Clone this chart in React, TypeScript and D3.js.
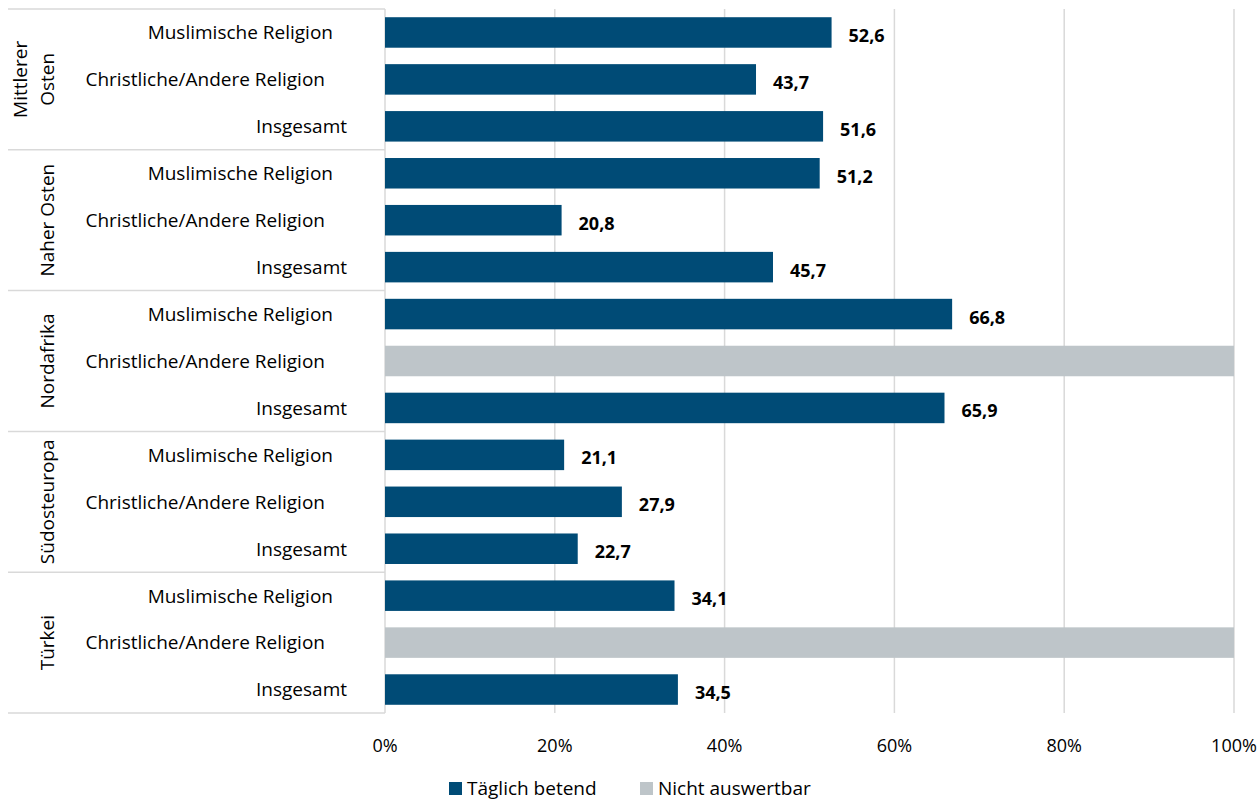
import React from "react";
import * as d3 from "d3";

const groups = ["Mittlerer Osten", "Naher Osten", "Nordafrika", "Südosteuropa", "Türkei"];
const groupLines = [["Mittlerer", "Osten"], ["Naher Osten"], ["Nordafrika"], ["Südosteuropa"], ["Türkei"]];
const categories = ["Muslimische Religion", "Christliche/Andere Religion", "Insgesamt"];
// null = Nicht auswertbar
const dailyPraying: (number | null)[] = [
  52.6, 43.7, 51.6,
  51.2, 20.8, 45.7,
  66.8, null, 65.9,
  21.1, 27.9, 22.7,
  34.1, null, 34.5,
];
const xTicks = [0, 20, 40, 60, 80, 100];
const legendItems = ["Täglich betend", "Nicht auswertbar"];

const W = 1259, H = 801;
const plotLeft = 385, plotRight = 1234, plotTop = 9, plotBottom = 713;
const BLUE = "#004B76";
const GREY = "#BEC5C9";
const FONT = "'Open Sans', 'Noto Sans', sans-serif";
const catLabelEnd: Record<string, number> = {
  "Muslimische Religion": 333,
  "Christliche/Andere Religion": 325,
  "Insgesamt": 347,
};

export default function App() {
  const x = d3.scaleLinear().domain([0, 100]).range([plotLeft, plotRight]);
  const rows = dailyPraying.map((v, i) => ({ v, i, g: Math.floor(i / 3), c: categories[i % 3] }));
  const y = d3.scaleBand<number>().domain(rows.map(r => r.i)).range([plotTop, plotBottom]).paddingInner(0.35).paddingOuter(0.175);
  const step = y.step();
  const fmt = (v: number) => d3.format(".1f")(v).replace(".", ",");
  return (
    <svg width={W} height={H} style={{ position: "absolute", left: 0, top: 0, fontFamily: FONT }}>
      <rect width={W} height={H} fill="#fff" />
      {xTicks.slice(1).map(t => (
        <line key={t} x1={x(t)} x2={x(t)} y1={plotTop} y2={plotBottom} stroke="#D9D9D9" strokeWidth={1.5} />
      ))}
      {d3.range(groups.length + 1).map(k => {
        const yy = plotTop + k * 3 * step;
        return <line key={k} x1={8} x2={plotLeft} y1={yy} y2={yy} stroke="#D9D9D9" strokeWidth={1.5} />;
      })}
      <line x1={plotLeft} x2={plotLeft} y1={plotTop} y2={plotBottom} stroke="#D9D9D9" strokeWidth={1.5} />
      {rows.map(r => {
        const yy = y(r.i)!;
        const bw = y.bandwidth();
        return (
          <g key={r.i}>
            {r.v === null ? (
              <rect x={x(0)} y={yy} width={x(100) - x(0)} height={bw} fill={GREY} />
            ) : (
              <>
                <rect x={x(0)} y={yy} width={x(r.v) - x(0)} height={bw} fill={BLUE} />
                <text x={x(r.v) + 17} y={yy + bw / 2 + 3} dy="0.36em" fontSize={18} fontWeight={700} fill="#000">{fmt(r.v)}</text>
              </>
            )}
            <text x={catLabelEnd[r.c]} y={yy + bw / 2} dy="0.36em" textAnchor="end" fontSize={19} fill="#000">{r.c}</text>
          </g>
        );
      })}
      {groupLines.map((lines, g) => {
        const cy = plotTop + (g * 3 + 1.5) * step;
        const cx = lines.length === 1 ? 47 : 34;
        return (
          <text key={g} transform={`translate(${cx},${cy}) rotate(-90)`} textAnchor="middle" fontSize={19} fill="#000">
            {lines.map((l, j) => (
              <tspan key={j} x={0} dy={j === 0 ? (lines.length === 1 ? "0.36em" : "-0.35em") : "1.4em"}>{l}</tspan>
            ))}
          </text>
        );
      })}
      {xTicks.map(t => (
        <text key={t} x={x(t)} y={752} textAnchor="middle" fontSize={18} fill="#000">{t}%</text>
      ))}
      {legendItems.map((l, k) => {
        const lx = [449, 640][k];
        return (
          <g key={l}>
            <rect x={lx} y={782} width={13} height={13} fill={k === 0 ? BLUE : GREY} />
            <text x={lx + 18} y={788.5} dy="0.36em" fontSize={19} fill="#000">{l}</text>
          </g>
        );
      })}
    </svg>
  );
}
